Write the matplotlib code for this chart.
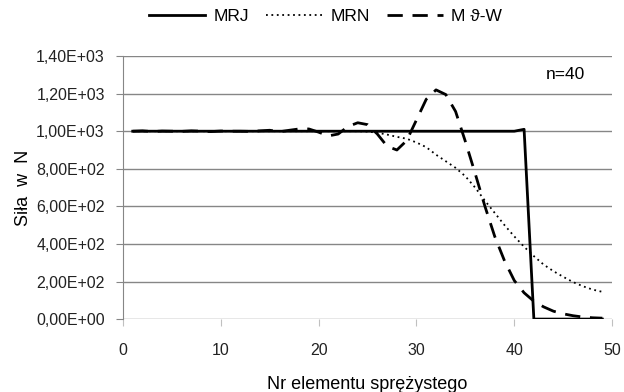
import numpy as np
import matplotlib.pyplot as plt
from matplotlib.ticker import FuncFormatter

plt.rcParams['font.family'] = ['Liberation Sans', 'DejaVu Sans']

# Numer elementu sprężystego
elem = np.arange(1, 50)

# MRJ
mrj = [1000]*40 + [1010, 0, 0, 0, 0, 0, 0, 0, 0]

# MRN
mrn = [1000]*24 + [998, 992, 982, 970, 960, 940, 915, 875, 840, 805, 760, 700,
                   630, 565, 500, 440, 385, 335, 290, 255, 225, 197, 175, 157, 145]

# M ϑ-W
mtw = [1000, 1002, 998, 1001, 1000, 999, 1002, 1000, 998, 1001, 1000, 1000,
       999, 1002, 1005, 997, 1005, 1012, 1012, 995, 975, 985, 1025, 1045, 1035,
       985, 920, 900, 950, 1060, 1170, 1220, 1195, 1105, 945, 775, 600, 440,
       310, 205, 140, 95, 65, 42, 28, 18, 11, 7, 5]

fig = plt.figure(figsize=(6.24, 3.92), dpi=100)
ax = fig.add_axes([0.197, 0.186, 0.784, 0.671])

l1, = ax.plot(elem, mrj, color='black', lw=2.0, label='MRJ')
l2, = ax.plot(elem, mrn, color='black', lw=1.3, linestyle=(0, (1, 2)), label='MRN')
l3, = ax.plot(elem, mtw, color='black', lw=2.0, linestyle=(0, (5.5, 3.5)), label='M ϑ-W')

ax.set_xlim(0, 50)
ax.set_ylim(0, 1400)
ax.set_xticks(np.arange(0, 51, 10))
ax.set_yticks(np.arange(0, 1401, 200))
ax.yaxis.set_major_formatter(FuncFormatter(lambda v, p: f'{v:.2E}'.replace('.', ',')))

ax.grid(axis='y', color='#868686', lw=1)
ax.set_axisbelow(True)
for s in ['top', 'right', 'bottom']:
    ax.spines[s].set_visible(False)
ax.spines['left'].set_color('#868686')
ax.tick_params(axis='y', direction='out', length=5, color='#868686', pad=8, labelsize=11.5, labelcolor='#222222')
ax.tick_params(axis='x', direction='out', length=5, color='#c0c0c0', pad=12, labelsize=11.5, labelcolor='#222222')

ax.set_xlabel('Nr elementu sprężystego', fontsize=13, labelpad=13)
ax.set_ylabel('Siła  w  N', fontsize=13, labelpad=3)

ax.text(0.904, 0.928, 'n=40', transform=ax.transAxes, ha='center', va='center', fontsize=12.5)

fig.legend(handles=[l1, l2, l3], loc='center', bbox_to_anchor=(0.522, 0.958), ncol=3,
           frameon=False, fontsize=12.5, handlelength=3.2, columnspacing=1.0, handletextpad=0.5)

fig.savefig('out.png', dpi=100)
